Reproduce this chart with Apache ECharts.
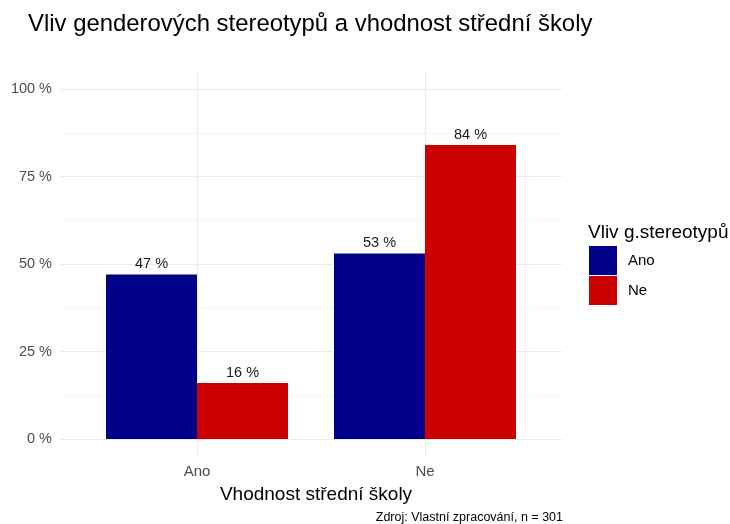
<!DOCTYPE html>
<html>
<head>
<meta charset="utf-8">
<script src="https://cdn.jsdelivr.net/npm/echarts@6/dist/echarts.min.js"></script>
<style>
  html, body { margin: 0; padding: 0; background: #fff; }
  #chart { width: 730px; height: 524px; }
</style>
</head>
<body>
<div id="chart"></div>
<script>
const categories = ["Ano", "Ne"];
const seriesNames = ["Ano", "Ne"];
const anoValues = [47, 53];
const neValues = [16, 84];
const yTicks = [0, 25, 50, 75, 100];
const yMinor = [12.5, 37.5, 62.5, 87.5];

const FONT = "Liberation Sans, Arial, sans-serif";
const chart = echarts.init(document.getElementById("chart"));

const gridTop = 71.5;
const gridHeight = 385;

const barLabel = {
  show: true,
  position: "top",
  distance: 3,
  color: "#1a1a1a",
  fontSize: 14.5,
  fontFamily: FONT,
  formatter: (p) => p.value + " %",
};

const options = {
  animation: false,
  title: [
    {
      text: "Vliv genderových stereotypů a vhodnost střední školy",
      left: 23,
      top: 7,
      textStyle: { fontSize: 23.9, fontWeight: "normal", color: "#000", fontFamily: FONT },
    },
    {
      text: "Vliv g.stereotypů",
      left: 583,
      top: 218,
      textStyle: { fontSize: 19, fontWeight: "normal", color: "#000", fontFamily: FONT },
    },
    {
      text: "Vhodnost střední školy",
      left: 311,
      textAlign: "center",
      top: 480,
      textStyle: { fontSize: 19, fontWeight: "normal", color: "#000", fontFamily: FONT },
    },
    {
      text: "Zdroj: Vlastní zpracování, n = 301",
      right: 162,
      top: 506,
      textStyle: { fontSize: 12.5, fontWeight: "normal", color: "#000", fontFamily: FONT },
    },
  ],
  legend: {
    data: seriesNames,
    orient: "vertical",
    left: 584,
    top: 241,
    itemWidth: 28,
    itemHeight: 29,
    itemGap: 1,
    icon: "rect",
    textStyle: { fontSize: 15, color: "#000", fontFamily: FONT, padding: [3, 0, 0, 6] },
  },
  grid: [
    { left: 83, width: 456, top: gridTop, height: gridHeight },
    { left: 60, width: 502, top: gridTop, height: gridHeight },
  ],
  xAxis: [
    {
      type: "category",
      gridIndex: 0,
      data: categories,
      axisLine: { show: false },
      axisTick: { show: false },
      axisLabel: { color: "#4d4d4d", fontSize: 15, fontFamily: FONT, margin: 8 },
    },
    { type: "value", gridIndex: 1, min: 0, max: 1, show: false },
  ],
  yAxis: [
    { type: "value", gridIndex: 0, min: -5, max: 105, show: false },
    {
      type: "value",
      gridIndex: 1,
      min: -5,
      max: 105,
      axisLine: { show: false },
      axisTick: { show: false },
      splitLine: { show: false },
      axisLabel: {
        customValues: yTicks,
        formatter: "{value} %",
        color: "#4d4d4d",
        fontSize: 14.5,
        fontFamily: FONT,
        margin: 8,
      },
    },
  ],
  series: [
    {
      type: "line",
      xAxisIndex: 1,
      yAxisIndex: 1,
      data: [],
      z: 0,
      markLine: {
        z: 0,
        silent: true,
        symbol: "none",
        label: { show: false },
        animation: false,
        data: yTicks
          .map((v) => ({ yAxis: v, lineStyle: { color: "#ebebeb", width: 1.2, type: "solid" } }))
          .concat(yMinor.map((v) => ({ yAxis: v, lineStyle: { color: "#f2f2f2", width: 0.8, type: "solid" } }))),
      },
    },
    {
      type: "line",
      xAxisIndex: 0,
      yAxisIndex: 0,
      data: [],
      z: 0,
      markLine: {
        z: 0,
        silent: true,
        symbol: "none",
        label: { show: false },
        animation: false,
        lineStyle: { color: "#ebebeb", width: 1.2, type: "solid" },
        data: categories.map((c) => ({ xAxis: c })),
      },
    },
    {
      name: seriesNames[0],
      type: "bar",
      xAxisIndex: 0,
      yAxisIndex: 0,
      data: anoValues,
      barWidth: 91,
      barGap: "0%",
      z: 3,
      itemStyle: { color: "#00008b" },
      label: barLabel,
    },
    {
      name: seriesNames[1],
      type: "bar",
      xAxisIndex: 0,
      yAxisIndex: 0,
      data: neValues,
      barWidth: 91,
      barGap: "0%",
      z: 3,
      itemStyle: { color: "#cd0000" },
      label: barLabel,
    },
  ],
};

chart.setOption(options);
window.addEventListener("resize", () => chart.resize());
</script>
</body>
</html>
